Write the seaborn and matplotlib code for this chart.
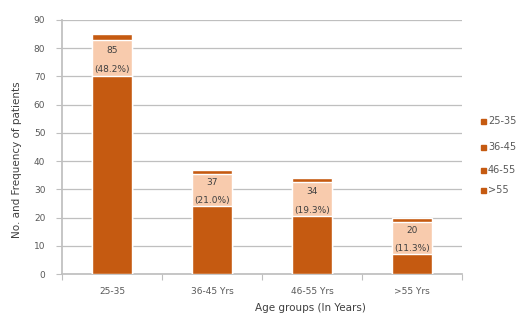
import matplotlib
matplotlib.use("Agg")
import matplotlib.pyplot as plt
import seaborn as sns
import pandas as pd
from matplotlib.patches import Rectangle
from matplotlib.ticker import FixedLocator

categories = ["25-35", "36-45 Yrs", "46-55 Yrs", ">55 Yrs"]
totals = [85, 37, 34, 20]
percents = ["(48.2%)", "(21.0%)", "(19.3%)", "(11.3%)"]
base_vals = [70, 24, 20.5, 7]        # dark lower part
band_vals = [13, 11.5, 12, 11.5]     # light label band
legend_labels = ["25-35", "36-45", "46-55", ">55"]

dark = "#C55A11"
light = "#F8CBAD"
grey = "#595959"

sns.set_theme(style="white")
plt.rcParams['font.family'] = ['DejaVu Sans']

fig = plt.figure(figsize=(5.18, 3.21), dpi=100)
ax = fig.add_axes([62/518, 1 - 274/321, 400/518, (274 - 20)/321])

band_top = [b + c for b, c in zip(base_vals, band_vals)]
df = pd.DataFrame({"cat": categories, "total": totals,
                   "band_top": band_top, "base": base_vals})

sns.barplot(data=df, x="cat", y="total", color=dark, width=0.4,
            saturation=1, ax=ax, zorder=3)
sns.barplot(data=df, x="cat", y="band_top", color=light, width=0.4,
            saturation=1, ax=ax, zorder=4)
sns.barplot(data=df, x="cat", y="base", color=dark, width=0.4,
            saturation=1, ax=ax, zorder=5)

for i, (t, p, b, c) in enumerate(zip(totals, percents, base_vals, band_vals)):
    ax.text(i, b + c * 0.72, str(t), ha="center", va="center",
            fontsize=6.5, color="#404040", zorder=6)
    ax.text(i, b + c * 0.18, p, ha="center", va="center",
            fontsize=6.5, color="#404040", zorder=6)

ax.set_ylim(0, 90)
ax.set_xlim(-0.5, 3.5)
ax.set_yticks(range(0, 91, 10))
ax.yaxis.grid(True, color="#BFBFBF", linewidth=0.9, zorder=0)
ax.set_axisbelow(True)
for s in ["top", "right"]:
    ax.spines[s].set_visible(False)
ax.spines["left"].set_color("#BFBFBF")
ax.spines["bottom"].set_color("#BFBFBF")
ax.tick_params(axis="y", labelsize=6.5, length=4, width=0.8,
               left=True, pad=8, colors="#BFBFBF", labelcolor=grey)
ax.tick_params(axis="x", labelsize=6.5, labelcolor=grey, length=0, pad=9)
ax.xaxis.set_minor_locator(FixedLocator([-0.5, 0.5, 1.5, 2.5, 3.5]))
ax.tick_params(axis="x", which="minor", bottom=True, length=4, width=0.8,
               color="#BFBFBF")
ax.set_xlabel("")
ax.set_ylabel("")

fig.text(310/518, 1 - 308/321, "Age groups (In Years)", ha="center",
         va="center", fontsize=7.5, color="#404040")
fig.text(17/518, 1 - 160/321, "No. and Frequency of patients", ha="center",
         va="center", rotation=90, fontsize=7.5, color="#404040")

leg_y = [121, 147, 170, 190]
for lab, y in zip(legend_labels, leg_y):
    fig.patches.append(Rectangle((481/518, 1 - (y + 2.5)/321), 5/518, 5/321,
                                 transform=fig.transFigure, color=dark))
    fig.text(488/518, 1 - y/321, lab, ha="left", va="center",
             fontsize=7, color=grey)

fig.savefig("out.png", dpi=100)
